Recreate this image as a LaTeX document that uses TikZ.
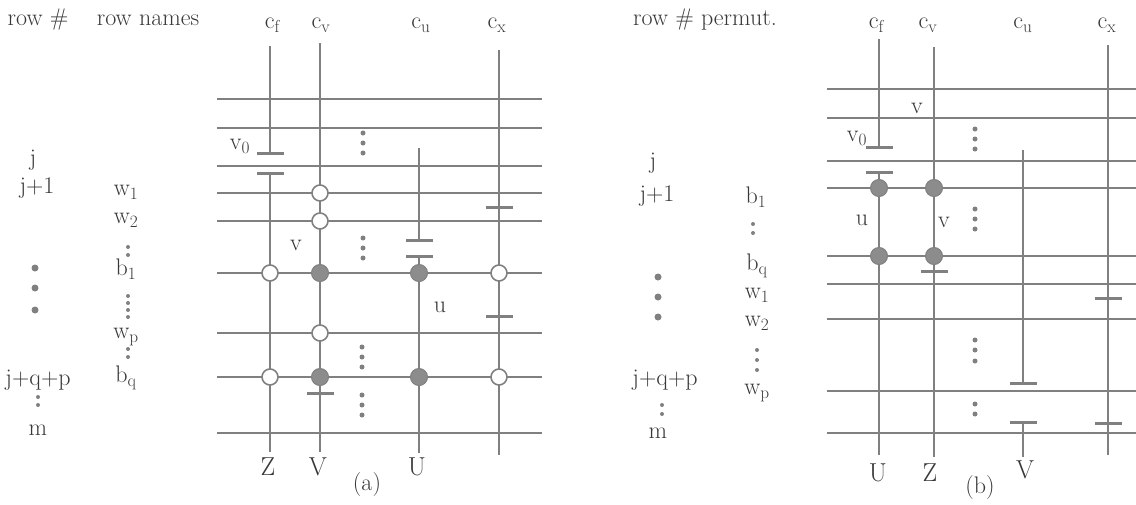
\documentclass[tikz,border=0pt]{standalone}
\definecolor{lgray}{gray}{0.50}
\definecolor{fgray}{gray}{0.55}
\definecolor{tgray}{gray}{0.22}
\definecolor{dgray}{gray}{0.50}
\tikzset{
  gridline/.style={draw=lgray, line width=1.5pt},
  colline/.style={draw=lgray, line width=1.7pt},
  barn/.style={rectangle, fill=lgray, minimum width=27pt, minimum height=3pt, inner sep=0pt},
  opencirc/.style={circle, draw=lgray, fill=white, line width=1.6pt, minimum size=16pt, inner sep=0pt},
  fillcirc/.style={circle, draw=lgray, fill=fgray, line width=1pt, minimum size=17pt, inner sep=0pt},
  lbl/.style={text=tgray, font=\fontsize{24}{28}\selectfont, inner sep=0pt},
  big/.style={text=tgray, font=\fontsize{26}{30}\selectfont, inner sep=0pt},
  smalldot/.style={circle, fill=dgray, minimum size=5pt, inner sep=0pt},
  bigdot/.style={circle, fill=dgray, minimum size=7pt, inner sep=0pt},
}
\begin{document}
\begin{tikzpicture}[x=1pt,y=-1pt]
\useasboundingbox (0,0) rectangle (1136,504);

% ================= panel (a) =================
% headers
\node[lbl] (ha1) at (38,20) {row \#};
\node[lbl] (ha2) at (148,20) {row names};
% row numbers
\node[lbl] (ja) at (33,160) {j};
\node[lbl] (j1a) at (37,188) {j+1};
\foreach \y [count=\i] in {268,288,310} \node[bigdot] (ra\i) at (35,\y) {};
\node[lbl] (jqpa) at (38,380) {j+q+p};
\foreach \y [count=\i] in {397,405} \node[smalldot,minimum size=4pt] (sa\i) at (38,\y) {};
\node[lbl] (ma) at (38,430) {m};
% row names
\node[lbl] (w1a) at (126,192) {w$_1$};
\node[lbl] (w2a) at (126,220) {w$_2$};
\foreach \y [count=\i] in {247,255} \node[smalldot,minimum size=4pt] (na\i) at (128,\y) {};
\node[lbl] (b1a) at (126,269) {b$_1$};
\foreach \y [count=\i] in {296,303,310,317} \node[smalldot,minimum size=4pt] (nb\i) at (128,\y) {};
\node[lbl] (wpa) at (126,337) {w$_\mathrm{p}$};
\foreach \y [count=\i] in {349,357} \node[smalldot,minimum size=4pt] (nc\i) at (128,\y) {};
\node[lbl] (bqa) at (126,378) {b$_\mathrm{q}$};

% column labels
\node[lbl] (lcfa) at (273,25) {c$_\mathrm{f}$};
\node[lbl] (lcva) at (321,25) {c$_\mathrm{v}$};
\node[lbl] (lcua) at (421,25) {c$_\mathrm{u}$};
\node[lbl] (lcxa) at (497,25) {c$_\mathrm{x}$};

% horizontal rows
\foreach \y [count=\i] in {99,128,166,193,221,273,333,377,433} {
  \coordinate (La\i) at (217,\y);
  \coordinate (Ra\i) at (542,\y);
  \draw[gridline] (La\i) -- (Ra\i);
}

% bars (a)
\node[barn] (av0) at (270,153) {};
\node[barn] (afs) at (270,173) {};
\node[barn] (avt) at (320,393) {};
\node[barn] (aue) at (419,240) {};
\node[barn] (aus) at (419,256) {};
\node[barn] (ax1) at (499,207) {};
\node[barn] (ax2) at (499,316) {};

% columns (a)
\coordinate (acft) at (270,46);  \coordinate (acfb) at (270,452);
\coordinate (acvt) at (320,43);  \coordinate (acvb) at (320,452);
\coordinate (acut) at (419,148); \coordinate (acub) at (419,453);
\coordinate (acxt) at (499,50);  \coordinate (acxb) at (499,455);
\draw[colline] (acft) -- (av0.center);
\draw[colline] (afs.center) -- (acfb);
\draw[colline] (acvt) -- (acvb);
\draw[colline] (acut) -- (aue.center);
\draw[colline] (aus.center) -- (acub);
\draw[colline] (acxt) -- (acxb);
% redraw bars on top
\node[barn] at (av0) {};
\node[barn] at (afs) {};
\node[barn] at (avt) {};
\node[barn] at (aue) {};
\node[barn] at (aus) {};
\node[barn] at (ax1) {};
\node[barn] at (ax2) {};

% circles (a)
\node[opencirc] (oa1) at (320,193) {};
\node[opencirc] (oa2) at (320,221) {};
\node[opencirc] (oa3) at (270,273) {};
\node[fillcirc] (fa1) at (320,273) {};
\node[fillcirc] (fa2) at (419,273) {};
\node[opencirc] (oa4) at (499,273) {};
\node[opencirc] (oa5) at (320,333) {};
\node[opencirc] (oa6) at (270,377) {};
\node[fillcirc] (fa3) at (320,377) {};
\node[fillcirc] (fa4) at (419,377) {};
\node[opencirc] (oa7) at (499,377) {};

% ellipsis dots (a)
\foreach \y [count=\i] in {133,143,153} \node[smalldot] (ea\i) at (363,\y) {};
\foreach \y [count=\i] in {238,248,258} \node[smalldot] (eb\i) at (363,\y) {};
\foreach \y [count=\i] in {347,357,367} \node[smalldot] (ec\i) at (362,\y) {};
\foreach \y [count=\i] in {395,405,415} \node[smalldot] (ed\i) at (362,\y) {};

% labels inside (a)
\node[lbl] (v0a) at (240,146) {v$_0$};
\node[lbl] (va) at (296,245) {v};
\node[lbl] (ua) at (440,307) {u};
\node[big] (Za) at (268,467) {Z};
\node[big] (Va) at (318,467) {V};
\node[big] (Ua) at (417,467) {U};
\node[lbl] (capa) at (367,485) {(a)};

% ================= panel (b) =================
\node[lbl] (hb) at (705,20) {row \# permut.};
\node[lbl] (jb) at (653,163) {j};
\node[lbl] (j1b) at (657,196) {j+1};
\foreach \y [count=\i] in {277,297,317} \node[bigdot] (rb\i) at (658,\y) {};
\node[lbl] (jqpb) at (665,380) {j+q+p};
\foreach \y [count=\i] in {405,414} \node[smalldot,minimum size=4pt] (sb\i) at (662,\y) {};
\node[lbl] (mb) at (658,433) {m};
\node[lbl] (b1b) at (756,197) {b$_1$};
\foreach \y [count=\i] in {224,233} \node[smalldot,minimum size=4pt] (pb\i) at (753,\y) {};
\node[lbl] (bqb) at (757,266) {b$_\mathrm{q}$};
\node[lbl] (w1b) at (757,295) {w$_1$};
\node[lbl] (w2b) at (757,323) {w$_2$};
\foreach \y [count=\i] in {350,360,370} \node[smalldot,minimum size=4pt] (qb\i) at (757,\y) {};
\node[lbl] (wpb) at (757,393) {w$_\mathrm{p}$};

% column labels (b)
\node[lbl] (lcfb) at (877,25) {c$_\mathrm{f}$};
\node[lbl] (lcvb) at (928,25) {c$_\mathrm{v}$};
\node[lbl] (lcub) at (1023,25) {c$_\mathrm{u}$};
\node[lbl] (lcxb) at (1107,25) {c$_\mathrm{x}$};

% horizontal rows (b)
\foreach \y [count=\i] in {89,118,161,188,256,284,319,391,433} {
  \coordinate (Lb\i) at (827,\y);
  \coordinate (Rb\i) at (1136,\y);
  \draw[gridline] (Lb\i) -- (Rb\i);
}

% bars (b)
\node[barn] (bv0) at (879,147) {};
\node[barn] (bfs) at (879,172) {};
\node[barn] (bvt) at (934,271) {};
\node[barn] (bue) at (1023,383) {};
\node[barn] (bus) at (1023,422) {};
\node[barn] (bx1) at (1108,298) {};
\node[barn] (bx2) at (1108,423) {};

% columns (b)
\coordinate (bcft) at (879,39);   \coordinate (bcfb) at (879,455);
\coordinate (bcvt) at (934,47);   \coordinate (bcvb) at (934,457);
\coordinate (bcut) at (1023,150); \coordinate (bcub) at (1023,457);
\coordinate (bcxt) at (1108,45);  \coordinate (bcxb) at (1108,455);
\draw[colline] (bcft) -- (bv0.center);
\draw[colline] (bfs.center) -- (bcfb);
\draw[colline] (bcvt) -- (bcvb);
\draw[colline] (bcut) -- (bue.center);
\draw[colline] (bus.center) -- (bcub);
\draw[colline] (bcxt) -- (bcxb);
\node[barn] at (bv0) {};
\node[barn] at (bfs) {};
\node[barn] at (bvt) {};
\node[barn] at (bue) {};
\node[barn] at (bus) {};
\node[barn] at (bx1) {};
\node[barn] at (bx2) {};

% circles (b)
\node[fillcirc] (fb1) at (879,188) {};
\node[fillcirc] (fb2) at (934,188) {};
\node[fillcirc] (fb3) at (879,256) {};
\node[fillcirc] (fb4) at (934,256) {};

% ellipsis dots (b)
\foreach \y [count=\i] in {129,139,149} \node[smalldot] (eba\i) at (975,\y) {};
\foreach \y [count=\i] in {209,219,229} \node[smalldot] (ebb\i) at (975,\y) {};
\foreach \y [count=\i] in {340,350,361} \node[smalldot] (ebc\i) at (975,\y) {};
\foreach \y [count=\i] in {404,414} \node[smalldot] (ebd\i) at (975,\y) {};

% labels inside (b)
\node[lbl] (vb1) at (917,108) {v};
\node[lbl] (v0b) at (857,138) {v$_0$};
\node[lbl] (ub) at (862,220) {u};
\node[lbl] (vb2) at (944,222) {v};
\node[big] (Ub) at (878,473) {U};
\node[big] (Zb) at (930,473) {Z};
\node[big] (Vb) at (1025,470) {V};
\node[lbl] (capb) at (980,488) {(b)};
\end{tikzpicture}
\end{document}
